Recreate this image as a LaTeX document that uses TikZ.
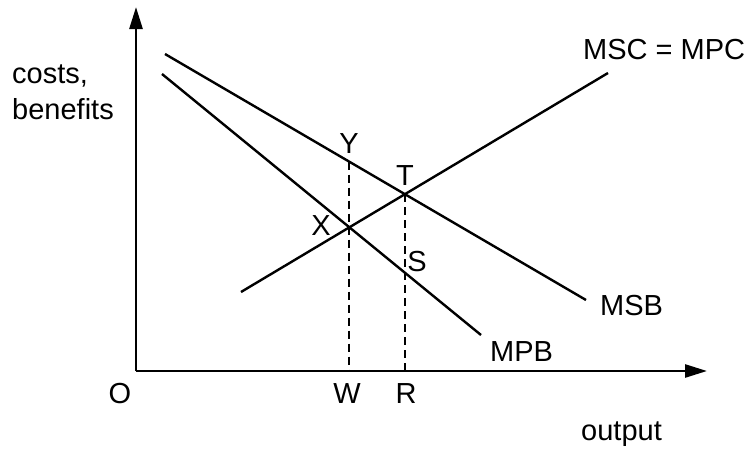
\documentclass[tikz,border=0pt]{standalone}
\usepackage{fontspec}
\setmainfont{Liberation Sans}
\usetikzlibrary{arrows.meta}
\begin{document}
\begin{tikzpicture}[x=1pt,y=-1pt,
  axis/.style={line width=2.6pt,-{Triangle[length=22pt,width=13pt]}},
  curve/.style={line width=2.4pt},
  guide/.style={line width=1.4pt,dash pattern=on 8pt off 5pt},
  lbl/.style={inner sep=0pt,font=\fontsize{29}{34}\selectfont}]
\useasboundingbox (0,0) rectangle (745,450);
% coordinates
\coordinate (O) at (136,371);
\coordinate (ytop) at (136,7);
\coordinate (xend) at (707,371);
\coordinate (mscA) at (241,292);
\coordinate (mscB) at (608,73);
\coordinate (msbA) at (165,54);
\coordinate (msbB) at (586,300);
\coordinate (mpbA) at (162,74);
\coordinate (mpbB) at (481,335);
\coordinate (Xp) at (349,227.5);
\coordinate (Yp) at (349,161.5);
\coordinate (Wp) at (349,371);
\coordinate (Tp) at (405,194);
\coordinate (Rp) at (405,371);
% axes
\draw[axis] (O) -- (ytop);
\draw[axis] (O) -- (xend);
% curves
\draw[curve] (mscA) -- (mscB);
\draw[curve] (msbA) -- (msbB);
\draw[curve] (mpbA) -- (mpbB);
% dashed guides
\draw[guide] (Yp) -- (Wp);
\draw[guide] (Tp) -- (Rp);
% labels
\node[lbl,anchor=base west] (lcosts) at (12,83) {costs,};
\node[lbl,anchor=base west] (lben) at (12,119) {benefits};
\node[lbl,anchor=base west] (lmsc) at (583,59) {MSC = MPC};
\node[lbl,anchor=base] (lY) at (349,153) {Y};
\node[lbl,anchor=base] (lT) at (405,185) {T};
\node[lbl,anchor=base] (lX) at (321,235) {X};
\node[lbl,anchor=base] (lS) at (417,271) {S};
\node[lbl,anchor=base west] (lmsb) at (600,315) {MSB};
\node[lbl,anchor=base west] (lmpb) at (490,361) {MPB};
\node[lbl,anchor=base] (lO) at (120,403) {O};
\node[lbl,anchor=base] (lW) at (347,403) {W};
\node[lbl,anchor=base] (lR) at (406,403) {R};
\node[lbl,anchor=base west] (lout) at (581,440) {output};
\end{tikzpicture}
\end{document}
